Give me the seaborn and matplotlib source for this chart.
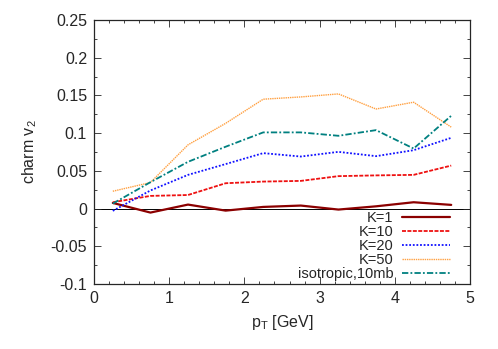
import pandas as pd
import matplotlib.pyplot as plt
import seaborn as sns
from matplotlib.ticker import MultipleLocator

# charm v2 vs pT for different K factors
pt = [0.25, 0.75, 1.25, 1.75, 2.25, 2.75, 3.25, 3.75, 4.25, 4.75]
v2_k1 = [0.0075, -0.0053, 0.0053, -0.0027, 0.0022, 0.0040, -0.0013, 0.0030, 0.0084, 0.0049]
v2_k10 = [0.0084, 0.0168, 0.0180, 0.0336, 0.0358, 0.0367, 0.0430, 0.0440, 0.0447, 0.0570]
v2_k20 = [-0.0030, 0.0240, 0.0447, 0.0590, 0.0735, 0.0690, 0.0752, 0.0695, 0.0774, 0.0938]
v2_k50 = [0.0230, 0.0345, 0.0845, 0.1130, 0.1450, 0.1480, 0.1520, 0.1320, 0.1410, 0.1080]
v2_iso = [0.0066, 0.0350, 0.0620, 0.0820, 0.1010, 0.1010, 0.0965, 0.1040, 0.0796, 0.1230]

series = [
    ("K=1", v2_k1, "#8b0000", "-", 1.6),
    ("K=10", v2_k10, "#ee1111", (0, (2.2, 0.8)), 1.3),
    ("K=20", v2_k20, "#1010ff", (0, (1, 1)), 1.3),
    ("K=50", v2_k50, "#ffa040", (0, (1, 0.6)), 1.0),
    ("isotropic,10mb", v2_iso, "#008080", (0, (3.5, 1.2, 1, 1.2)), 1.3),
]

fs = 11.5

sns.set_style("ticks")
plt.rcParams["font.family"] = ["Liberation Sans", "DejaVu Sans"]
plt.rcParams["xtick.direction"] = "in"
plt.rcParams["ytick.direction"] = "in"

fig = plt.figure(figsize=(4.98, 3.49), dpi=100)
ax = fig.add_axes([0.1888, 0.1862, 0.755, 0.7565])

for label, vals, color, ls, lw in series:
    df = pd.DataFrame({"pt": pt, "v2": vals})
    sns.lineplot(data=df, x="pt", y="v2", ax=ax, color=color, linestyle=ls,
                 linewidth=lw, label=label)

ax.axhline(0, color="black", linewidth=0.7, zorder=0)

ax.set_xlim(0, 5)
ax.set_ylim(-0.1, 0.25)
ax.xaxis.set_major_locator(MultipleLocator(1))
ax.xaxis.set_minor_locator(MultipleLocator(0.2))
ax.yaxis.set_major_locator(MultipleLocator(0.05))
ax.yaxis.set_minor_locator(MultipleLocator(0.025))
ax.tick_params(which="both", top=True, right=True, labelsize=fs, pad=5)
ax.tick_params(which="major", length=5, width=0.6)
ax.tick_params(which="minor", length=2.5, width=0.6)
ax.set_xticklabels([f"{t:g}" for t in ax.get_xticks()])
ax.set_yticklabels([f"{t:g}" for t in ax.get_yticks()])
for s in ax.spines.values():
    s.set_linewidth(0.9)

ax.set_xlabel(r"p$_\mathregular{T}$ [GeV]", fontsize=fs, labelpad=5)
ax.set_ylabel(r"charm v$_\mathregular{2}$", fontsize=fs, labelpad=8)

ax.legend(loc="lower right", frameon=False, markerfirst=False, fontsize=10.5,
          alignment="right", handlelength=3.3, labelspacing=0.0,
          handletextpad=0.6, borderaxespad=0.0, borderpad=0.2,
          bbox_to_anchor=(0.955, 0.0))

fig.savefig("out.png", dpi=100)
